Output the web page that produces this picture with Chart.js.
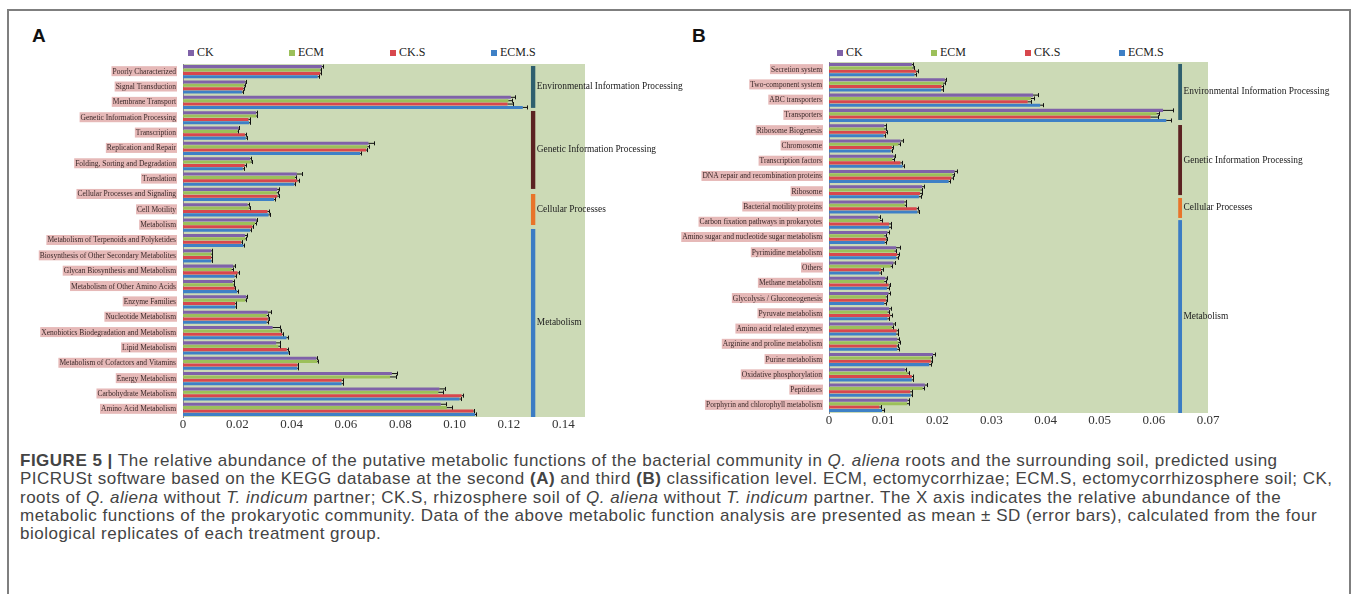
<!DOCTYPE html>
<html lang="en">
<head>
<meta charset="UTF-8" />
<title>Figure 5 - KEGG functional abundance</title>
<script src="https://cdn.jsdelivr.net/npm/chart.js"></script>
<style>
  body { margin: 0; background: #fff; width: 1357px; height: 594px; overflow: hidden; position: relative; }
  .frame { position: absolute; left: 7px; top: 9px; width: 1340px; height: 640px; border: 2px solid #7f7f7f; }
  .tag { position: absolute; top: 25px; font: bold 19px "Liberation Sans", Arial, sans-serif; color: #111; }
  .box { position: absolute; }
  .legend { position: absolute; top: 45px; height: 14px; font: 12px "Liberation Serif", serif; color: #222; }
  .legend .item { position: absolute; top: 0; white-space: nowrap; display: flex; align-items: center; }
  .legend i { display: inline-block; width: 6px; height: 6px; margin-right: 3px; }
  .caption { position: absolute; left: 20px; top: 452px; font: 17px "Liberation Sans", Arial, sans-serif; letter-spacing: 0.5px; color: #444; line-height: 18.3px; white-space: nowrap; }
</style>
</head>
<body>
<div class="frame"></div>
<div class="tag" style="left:32px">A</div>
<div class="tag" style="left:692px">B</div>
<div class="legend" id="legA" style="left:188px"></div>
<div class="legend" id="legB" style="left:837px"></div>
<div class="box" style="left:8px;top:58px;width:682px;height:380px"><canvas id="chartA"></canvas></div>
<div class="box" style="left:675px;top:58px;width:672px;height:376px"><canvas id="chartB"></canvas></div>
<div class="caption">
  <b>FIGURE 5 |</b> The relative abundance of the putative metabolic functions of the bacterial community in <i>Q. aliena</i> roots and the surrounding soil, predicted using<br>
  PICRUSt software based on the KEGG database at the second <b>(A)</b> and third <b>(B)</b> classification level. ECM, ectomycorrhizae; ECM.S, ectomycorrhizosphere soil; CK,<br>
  roots of <i>Q. aliena</i> without <i>T. indicum</i> partner; CK.S, rhizosphere soil of <i>Q. aliena</i> without <i>T. indicum</i> partner. The X axis indicates the relative abundance of the<br>
  metabolic functions of the prokaryotic community. Data of the above metabolic function analysis are presented as mean ± SD (error bars), calculated from the four<br>
  biological replicates of each treatment group.
</div>

<script>
// series
const seriesNames = ["CK", "ECM", "CK.S", "ECM.S"];
const seriesColors = ["#7f62a8", "#9cc05a", "#d8474d", "#3e80c6"];

// panel A - KEGG level 2
const catsA = ["Poorly Characterized", "Signal Transduction", "Membrane Transport", "Genetic Information Processing",
  "Transcription", "Replication and Repair", "Folding, Sorting and Degradation", "Translation",
  "Cellular Processes and Signaling", "Cell Motility", "Metabolism", "Metabolism of Terpenoids and Polyketides",
  "Biosynthesis of Other Secondary Metabolites", "Glycan Biosynthesis and Metabolism", "Metabolism of Other Amino Acids",
  "Enzyme Families", "Nucleotide Metabolism", "Xenobiotics Biodegradation and Metabolism", "Lipid Metabolism",
  "Metabolism of Cofactors and Vitamins", "Energy Metabolism", "Carbohydrate Metabolism", "Amino Acid Metabolism"];
const ckA   = [0.0511,0.0228,0.1207,0.0269,0.0204,0.0683,0.0247,0.0419,0.0347,0.0238,0.0269,0.0228,0.0104,0.0184,0.0183,0.0232,0.0312,0.0330,0.0343,0.0491,0.0769,0.0944,0.0949];
const ecmA  = [0.0505,0.0225,0.1198,0.0269,0.0201,0.0679,0.0249,0.0412,0.0345,0.0242,0.0265,0.0229,0.0104,0.0179,0.0186,0.0229,0.0308,0.0356,0.0351,0.0494,0.0762,0.0940,0.0971];
const cksA  = [0.0505,0.0222,0.1195,0.0241,0.0228,0.0674,0.0227,0.0421,0.0347,0.0311,0.0255,0.0214,0.0104,0.0201,0.0190,0.0192,0.0312,0.0365,0.0382,0.0421,0.0584,0.1026,0.1069];
const ecmsA = [0.0496,0.0217,0.1251,0.0243,0.0231,0.0652,0.0220,0.0409,0.0335,0.0315,0.0247,0.0222,0.0104,0.0190,0.0199,0.0192,0.0308,0.0381,0.0388,0.0421,0.0584,0.1018,0.1075];
const ckSdA   = [0.0004,0.0004,0.0016,0.0005,0.0003,0.0021,0.0004,0.0018,0.0008,0.0005,0.0003,0.0006,0.0002,0.0008,0.0003,0.0004,0.0012,0.0028,0.0015,0.0004,0.0018,0.0020,0.0019];
const ecmSdA  = [0.0004,0.0004,0.0012,0.0005,0.0003,0.0006,0.0004,0.0005,0.0005,0.0004,0.0003,0.0004,0.0002,0.0004,0.0003,0.0004,0.0004,0.0004,0.0005,0.0004,0.0022,0.0016,0.0021];
const cksSdA  = [0.0004,0.0004,0.0020,0.0004,0.0003,0.0005,0.0004,0.0006,0.0005,0.0006,0.0003,0.0003,0.0002,0.0004,0.0003,0.0004,0.0004,0.0004,0.0004,0.0004,0.0004,0.0006,0.0004];
const ecmsSdA = [0.0004,0.0004,0.0017,0.0004,0.0003,0.0005,0.0004,0.0005,0.0005,0.0004,0.0003,0.0003,0.0002,0.0004,0.0003,0.0004,0.0004,0.0004,0.0004,0.0004,0.0004,0.0004,0.0004];

// panel B - KEGG level 3
const catsB = ["Secretion system", "Two-component system", "ABC transporters", "Transporters", "Ribosome Biogenesis",
  "Chromosome", "Transcription factors", "DNA repair and recombination proteins", "Ribosome", "Bacterial motility proteins",
  "Carbon fixation pathways in prokaryotes", "Amino sugar and nucleotide sugar metabolism", "Pyrimidine metabolism", "Others",
  "Methane metabolism", "Glycolysis / Gluconeogenesis", "Pyruvate metabolism", "Amino acid related enzymes",
  "Arginine and proline metabolism", "Purine metabolism", "Oxidative phosphorylation", "Peptidases",
  "Porphyrin and chlorophyll metabolism"];
const ckB   = [0.0153,0.0214,0.0377,0.0617,0.0102,0.0132,0.0119,0.0232,0.0172,0.0139,0.0091,0.0108,0.0124,0.0119,0.0104,0.0110,0.0111,0.0118,0.0126,0.0192,0.0140,0.0177,0.0145];
const ecmB  = [0.0154,0.0211,0.0373,0.0605,0.0102,0.0128,0.0117,0.0228,0.0169,0.0140,0.0094,0.0102,0.0121,0.0114,0.0102,0.0105,0.0108,0.0116,0.0128,0.0188,0.0145,0.0173,0.0144];
const cksB  = [0.0161,0.0208,0.0367,0.0594,0.0105,0.0116,0.0132,0.0226,0.0168,0.0162,0.0111,0.0105,0.0126,0.0096,0.0110,0.0105,0.0113,0.0125,0.0125,0.0188,0.0153,0.0150,0.0093];
const ecmsB = [0.0158,0.0207,0.0390,0.0623,0.0101,0.0114,0.0136,0.0221,0.0166,0.0163,0.0111,0.0103,0.0124,0.0093,0.0107,0.0102,0.0108,0.0124,0.0126,0.0185,0.0153,0.0151,0.0098];
const ckSdB   = [0.0003,0.0003,0.0009,0.0018,0.0003,0.0005,0.0003,0.0005,0.0004,0.0003,0.0003,0.0003,0.0008,0.0003,0.0003,0.0003,0.0003,0.0003,0.0003,0.0004,0.0003,0.0004,0.0003];
const ecmSdB  = [0.0003,0.0003,0.0006,0.0004,0.0003,0.0003,0.0003,0.0003,0.0003,0.0003,0.0003,0.0003,0.0003,0.0003,0.0003,0.0003,0.0003,0.0003,0.0003,0.0003,0.0003,0.0003,0.0003];
const cksSdB  = [0.0003,0.0003,0.0006,0.0014,0.0003,0.0003,0.0003,0.0003,0.0003,0.0003,0.0003,0.0003,0.0003,0.0003,0.0003,0.0003,0.0003,0.0003,0.0003,0.0003,0.0003,0.0003,0.0003];
const ecmsSdB = [0.0003,0.0003,0.0006,0.0009,0.0003,0.0003,0.0003,0.0003,0.0003,0.0003,0.0003,0.0003,0.0003,0.0003,0.0003,0.0003,0.0003,0.0003,0.0003,0.0003,0.0003,0.0003,0.0003];

// KEGG level 1 brackets (category index ranges, x span in data units)
const groupNames = ["Environmental Information Processing", "Genetic Information Processing", "Cellular Processes", "Metabolism"];
const groupColors = ["#2f5f6e", "#5b2222", "#e8742a", "#3b7cc4"];
const groupStartA = [-0.37, 2.56, 7.97, 10.25];
const groupEndA   = [2.36, 7.64, 9.99, 22.5];
const groupStartB = [-0.37, 3.63, 8.41, 9.86];
const groupEndB   = [3.3, 8.22, 9.72, 22.5];
const bandSpanA = [0.1281, 0.1297];
const bandSpanB = [0.0645, 0.0652];

const serif = "'Liberation Serif', 'Times New Roman', serif";

const plotBg = {
  id: 'plotBg',
  beforeDraw(chart) {
    const { ctx, chartArea: a } = chart;
    ctx.save();
    ctx.fillStyle = '#ccdab6';
    ctx.fillRect(a.left, a.top, a.right - a.left, a.bottom - a.top);
    ctx.restore();
  }
};

const errorBars = {
  id: 'errorBars',
  afterDatasetsDraw(chart) {
    const { ctx } = chart;
    const xs = chart.scales.x;
    ctx.save();
    ctx.strokeStyle = '#111';
    ctx.lineWidth = 1;
    chart.data.datasets.forEach((ds, i) => {
      chart.getDatasetMeta(i).data.forEach((bar, j) => {
        const end = Math.round(xs.getPixelForValue(ds.data[j] + ds.sd[j])) + 0.5;
        const h = bar.height / 2 + 0.5;
        ctx.beginPath();
        ctx.moveTo(bar.x, bar.y);
        ctx.lineTo(end, bar.y);
        ctx.moveTo(end, bar.y - h);
        ctx.lineTo(end, bar.y + h);
        ctx.stroke();
      });
    });
    ctx.restore();
  }
};

function groupBands(starts, ends, span) {
  return {
    id: 'groupBands',
    afterDraw(chart) {
      const { ctx } = chart;
      const xs = chart.scales.x, ys = chart.scales.y;
      const x0 = xs.getPixelForValue(span[0]), x1 = xs.getPixelForValue(span[1]);
      ctx.save();
      groupNames.forEach((name, i) => {
        const y0 = ys.getPixelForValue(starts[i]), y1 = Math.min(ys.getPixelForValue(ends[i]), chart.chartArea.bottom);
        ctx.fillStyle = groupColors[i];
        ctx.fillRect(x0, y0, x1 - x0, y1 - y0);
        ctx.fillStyle = '#222';
        ctx.font = '9.4px ' + serif;
        ctx.textBaseline = 'middle';
        ctx.fillText(name, x1 + 1.5, (y0 + y1) / 2);
      });
      ctx.restore();
    }
  };
}

function makeChart(id, cats, vals, sds, xMax, step, axisW, pad, starts, ends, span) {
  return new Chart(document.getElementById(id), {
    type: 'bar',
    data: {
      labels: cats,
      datasets: seriesNames.map((n, i) => ({
        label: n, data: vals[i], sd: sds[i],
        backgroundColor: seriesColors[i],
        borderWidth: 0,
        categoryPercentage: 0.88, barPercentage: 0.9
      }))
    },
    options: {
      indexAxis: 'y',
      responsive: true,
      maintainAspectRatio: false,
      animation: false,
      layout: { padding: pad },
      plugins: { legend: { display: false }, tooltip: { enabled: false } },
      scales: {
        x: {
          min: 0, max: xMax,
          grid: { display: false, drawTicks: false },
          border: { display: false },
          ticks: { stepSize: step, includeBounds: false, padding: 0, color: '#333', font: { family: serif, size: 13 } },
          afterFit(s) { s.height = 21; s.paddingLeft = 0; s.paddingRight = 0; }
        },
        y: {
          grid: { display: false, drawTicks: false },
          border: { display: true, color: '#8a8a8a', width: 1 },
          ticks: {
            autoSkip: false, padding: 7, color: '#3a2828',
            font: { family: serif, size: 7.5 },
            showLabelBackdrop: true, backdropColor: '#e6b9b8',
            backdropPadding: { left: 1, right: 1, top: 1, bottom: 0 }
          },
          afterFit(s) { s.width = axisW; s.paddingTop = 0; s.paddingBottom = 0; }
        }
      }
    },
    plugins: [plotBg, errorBars, groupBands(starts, ends, span)]
  });
}

function buildLegend(id, stepPx) {
  const el = document.getElementById(id);
  seriesNames.forEach((n, i) => {
    const it = document.createElement('span');
    it.className = 'item';
    it.style.left = (i * stepPx) + 'px';
    it.innerHTML = '<i style="background:' + seriesColors[i] + '"></i>' + n;
    el.appendChild(it);
  });
}

buildLegend('legA', 101);
buildLegend('legB', 94);

makeChart('chartA', catsA, [ckA, ecmA, cksA, ecmsA], [ckSdA, ecmSdA, cksSdA, ecmsSdA],
  0.148, 0.02, 175, { top: 6, right: 105, bottom: 0, left: 0 }, groupStartA, groupEndA, bandSpanA);
makeChart('chartB', catsB, [ckB, ecmB, cksB, ecmsB], [ckSdB, ecmSdB, cksSdB, ecmsSdB],
  0.07, 0.01, 154, { top: 4, right: 139, bottom: 0, left: 0 }, groupStartB, groupEndB, bandSpanB);
</script>
</body>
</html>
